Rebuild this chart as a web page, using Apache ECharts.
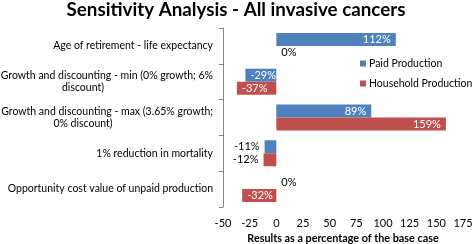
<!DOCTYPE html>
<html><head><meta charset="utf-8">
<script src="https://cdn.jsdelivr.net/npm/echarts@6/dist/echarts.min.js"></script>
<style>html,body{margin:0;padding:0;background:#fff}#c{width:472px;height:244px}</style>
</head><body><div id="c"></div>
<script>
const categories = [
  'Age of retirement - life expectancy',
  'Growth and discounting - min (0% growth; 6%\ndiscount)',
  'Growth and discounting - max (3.65% growth;\n0% discount)',
  '1% reduction in mortality',
  'Opportunity cost value of unpaid production'
];
const paidProduction = [112, -29, 89, -11, 0];
const householdProduction = [0, -37, 159, -12, -32];
const xTicks = [-50, 175, 25];

const FONT = 'Lato';
function labelled(vals) {
  return vals.map(v => {
    let pos, color;
    if (v === 0) { pos = 'right'; color = '#000'; }
    else if (Math.abs(v) < 20) { pos = v < 0 ? 'left' : 'right'; color = '#000'; }
    else { pos = v < 0 ? 'insideLeft' : 'insideRight'; color = '#fff'; }
    return { value: v, label: { position: pos, color: color } };
  });
}
const chart = echarts.init(document.getElementById('c'));
chart.setOption({
  animation: false,
  textStyle: { fontFamily: FONT },
  title: { text: 'Sensitivity Analysis - All invasive cancers', left: 'center', top: 0, padding: [0, 5, 5, 5],
    textStyle: { fontFamily: FONT, fontWeight: 'bold', fontSize: 18.8, color: '#000' } },
  legend: { orient: 'vertical', left: 355, top: 53, itemWidth: 6, itemHeight: 6, itemGap: 9, icon: 'rect',
    textStyle: { fontFamily: FONT, fontSize: 10.5, color: '#000', padding: [0, 0, 0, -2] },
    data: ['Paid Production', 'Household Production'] },
  grid: { left: 223, right: 9, top: 28, bottom: 37, containLabel: false, outerBoundsMode: 'none' },
  xAxis: { type: 'value', min: xTicks[0], max: xTicks[1], interval: xTicks[2],
    name: 'Results as a percentage of the base case', nameLocation: 'middle', nameGap: 26,
    nameTextStyle: { fontFamily: FONT, fontWeight: 'bold', fontSize: 10.8, color: '#000' },
    axisLine: { onZero: false, lineStyle: { color: '#868686' } },
    axisTick: { inside: true, length: 3, lineStyle: { color: '#868686' } },
    axisLabel: { fontFamily: FONT, fontSize: 11, color: '#000', margin: 10.5 },
    splitLine: { show: false } },
  yAxis: [
    { type: 'category', data: categories, inverse: true,
      axisLine: { show: false }, axisTick: { show: false },
      axisLabel: { margin: 10, color: '#000', fontFamily: FONT, fontSize: 10.5, lineHeight: 11.6,
        formatter: function (v) { const l = v.split('\n'); return l.length === 1 ? l[0] : l[0] + '\n '; } } },
    { type: 'category', data: categories, inverse: true, position: 'left',
      axisLine: { show: true, onZero: true, lineStyle: { color: '#868686' } },
      axisTick: { show: true, length: 4, lineStyle: { color: '#868686' } },
      axisLabel: { show: false } },
    { type: 'category', data: categories, inverse: true, position: 'left',
      axisLine: { show: false }, axisTick: { show: false },
      axisLabel: { margin: 140, align: 'center', color: '#000', fontFamily: FONT, fontSize: 10.5, lineHeight: 11.6,
        formatter: function (v) { const l = v.split('\n'); return l.length === 1 ? '' : ' \n' + l[1]; } } }
  ],
  series: [
    { name: 'Paid Production', type: 'bar', yAxisIndex: 0, data: labelled(paidProduction),
      barWidth: 13, barGap: '0%', itemStyle: { color: '#4F81BD' },
      label: { show: true, formatter: p => p.value + '%', fontFamily: FONT, fontSize: 11, distance: 5 } },
    { name: 'Household Production', type: 'bar', yAxisIndex: 0, data: labelled(householdProduction),
      barWidth: 13, barGap: '0%', itemStyle: { color: '#C0504D' },
      label: { show: true, formatter: p => p.value + '%', fontFamily: FONT, fontSize: 11, distance: 5 } }
  ]
});
</script></body></html>
